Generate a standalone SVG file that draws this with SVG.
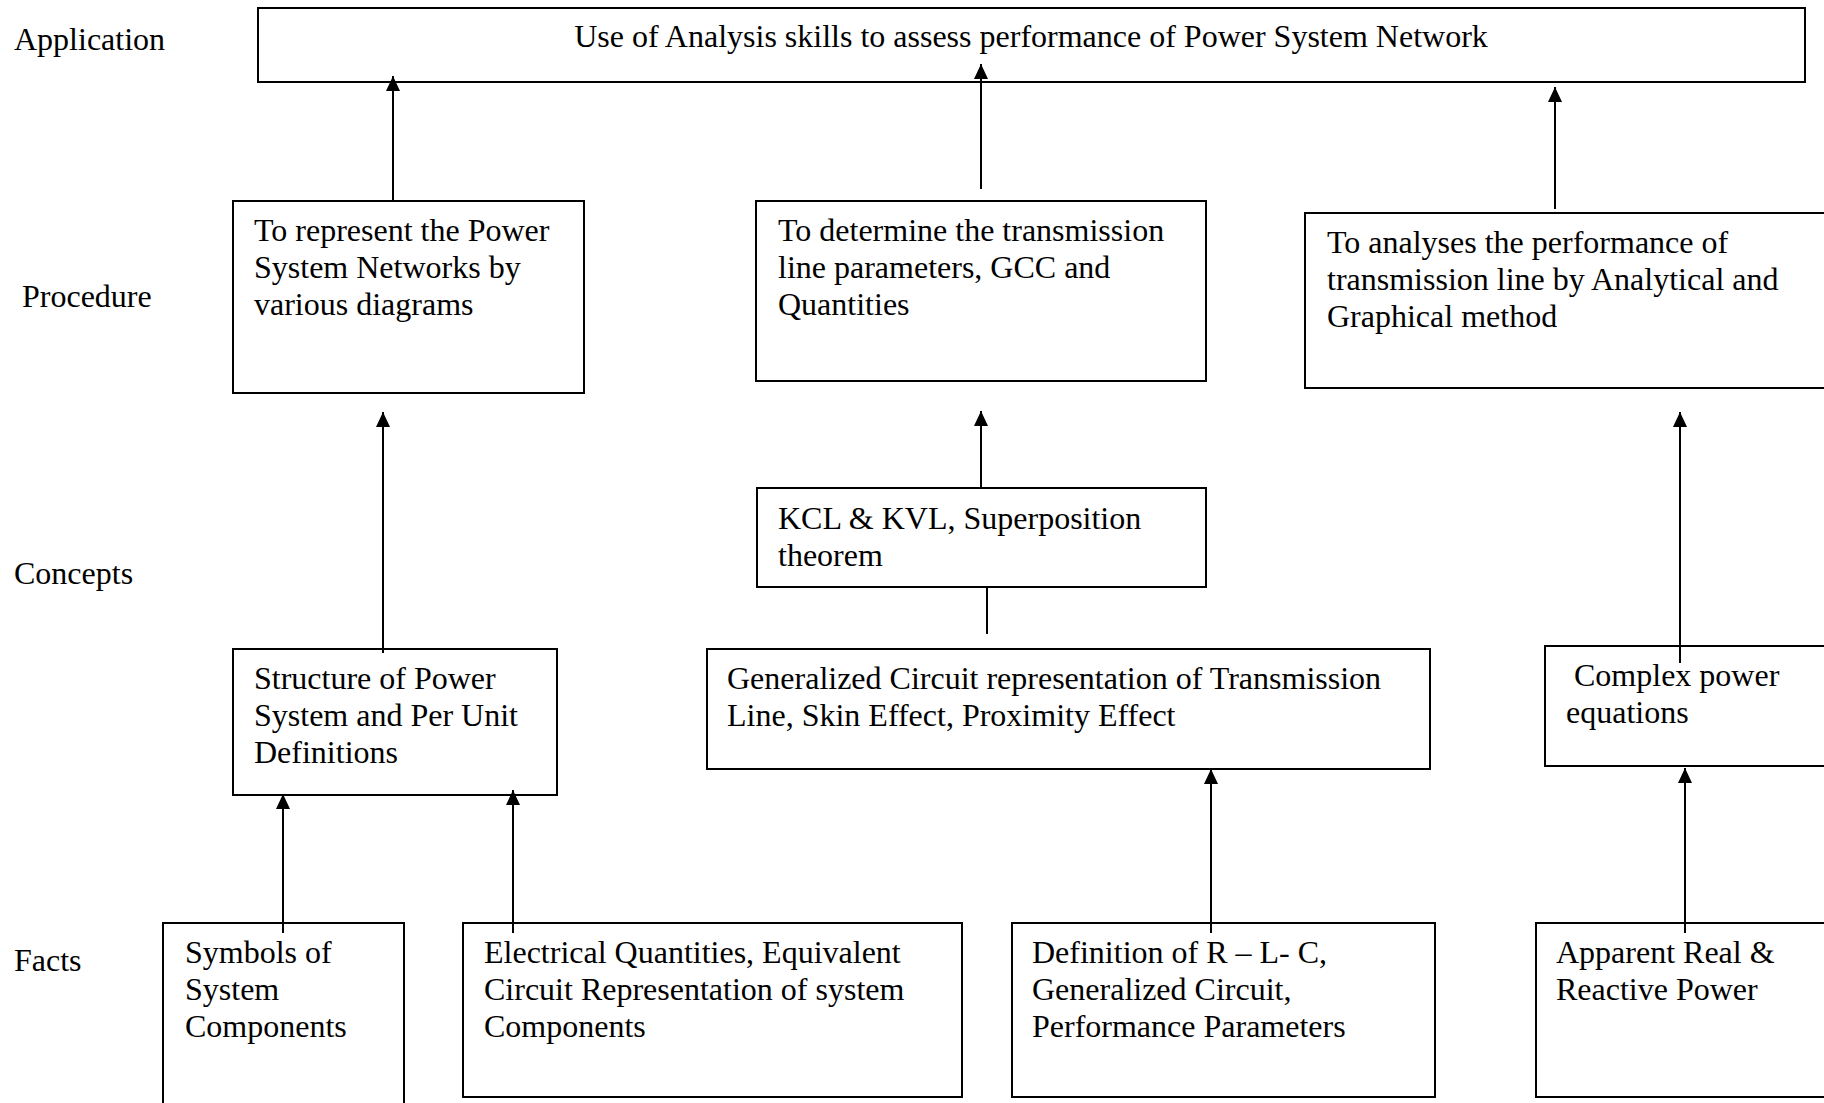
<svg xmlns="http://www.w3.org/2000/svg" width="1824" height="1103" viewBox="0 0 1824 1103">
<style>
  .box { fill: #ffffff; stroke: #000000; stroke-width: 2; }
  .t { font-family: "Liberation Serif", "Times New Roman", serif; font-size: 32px; fill: #000000; }
  .c { stroke: #000000; stroke-width: 2; fill: none; }
  .a { marker-end: url(#arr); }
</style>
<defs>
  <marker id="arr" viewBox="0 0 15 14" refX="15" refY="7" markerWidth="15" markerHeight="14" markerUnits="userSpaceOnUse" orient="auto">
    <path d="M0,0 L15,7 L0,14 z" fill="#000000"/>
  </marker>
</defs>
<rect x="0" y="0" width="1824" height="1103" fill="#ffffff"/>

<g id="level-labels">
  <text class="t" x="14" y="50">Application</text>
  <text class="t" x="22" y="307">Procedure</text>
  <text class="t" x="14" y="584">Concepts</text>
  <text class="t" x="14" y="971">Facts</text>
</g>

<g id="app">
  <rect class="box" x="258" y="8" width="1547" height="74"/>
  <text class="t" x="1031" y="47" text-anchor="middle">Use of Analysis skills to assess performance of Power System Network</text>
</g>

<g id="proc1">
  <rect class="box" x="233" y="201" width="351" height="192"/>
  <text class="t" x="254" y="241">To represent the Power</text>
  <text class="t" x="254" y="278">System Networks by</text>
  <text class="t" x="254" y="315">various diagrams</text>
</g>

<g id="proc2">
  <rect class="box" x="756" y="201" width="450" height="180"/>
  <text class="t" x="778" y="241">To determine the transmission</text>
  <text class="t" x="778" y="278">line parameters, GCC and</text>
  <text class="t" x="778" y="315">Quantities</text>
</g>

<g id="proc3">
  <rect class="box" x="1305" y="213" width="530" height="175"/>
  <text class="t" x="1327" y="253">To analyses the performance of</text>
  <text class="t" x="1327" y="290">transmission line by Analytical and</text>
  <text class="t" x="1327" y="327">Graphical method</text>
</g>

<g id="kcl">
  <rect class="box" x="757" y="488" width="449" height="99"/>
  <text class="t" x="778" y="529">KCL &amp; KVL, Superposition</text>
  <text class="t" x="778" y="566">theorem</text>
</g>

<g id="structure">
  <rect class="box" x="233" y="649" width="324" height="146"/>
  <text class="t" x="254" y="689">Structure of Power</text>
  <text class="t" x="254" y="726">System and Per Unit</text>
  <text class="t" x="254" y="763">Definitions</text>
</g>

<g id="gcc">
  <rect class="box" x="707" y="649" width="723" height="120"/>
  <text class="t" x="727" y="689">Generalized Circuit representation of Transmission</text>
  <text class="t" x="727" y="726">Line, Skin Effect, Proximity Effect</text>
</g>

<g id="complex">
  <rect class="box" x="1545" y="646" width="290" height="120"/>
  <text class="t" x="1566" y="686" xml:space="preserve"> Complex power</text>
  <text class="t" x="1566" y="723">equations</text>
</g>

<g id="symbols">
  <rect class="box" x="163" y="923" width="241" height="200"/>
  <text class="t" x="185" y="963">Symbols of</text>
  <text class="t" x="185" y="1000">System</text>
  <text class="t" x="185" y="1037">Components</text>
</g>

<g id="electrical">
  <rect class="box" x="463" y="923" width="499" height="174"/>
  <text class="t" x="484" y="963">Electrical Quantities, Equivalent</text>
  <text class="t" x="484" y="1000">Circuit Representation of system</text>
  <text class="t" x="484" y="1037">Components</text>
</g>

<g id="definition">
  <rect class="box" x="1012" y="923" width="423" height="174"/>
  <text class="t" x="1032" y="963">Definition of R – L- C,</text>
  <text class="t" x="1032" y="1000">Generalized Circuit,</text>
  <text class="t" x="1032" y="1037">Performance Parameters</text>
</g>

<g id="apparent">
  <rect class="box" x="1536" y="923" width="300" height="174"/>
  <text class="t" x="1556" y="963">Apparent Real &amp;</text>
  <text class="t" x="1556" y="1000">Reactive Power</text>
</g>

<g id="connectors">
  <line class="c a" x1="393" y1="201" x2="393" y2="76"/>
  <line class="c a" x1="981" y1="189" x2="981" y2="64"/>
  <line class="c a" x1="1555" y1="209" x2="1555" y2="87"/>
  <line class="c a" x1="383" y1="653" x2="383" y2="412"/>
  <line class="c a" x1="981" y1="488" x2="981" y2="411"/>
  <line class="c" x1="987" y1="588" x2="987" y2="634"/>
  <line class="c a" x1="1680" y1="663" x2="1680" y2="412"/>
  <line class="c a" x1="283" y1="933" x2="283" y2="794"/>
  <line class="c a" x1="513" y1="933" x2="513" y2="790"/>
  <line class="c a" x1="1211" y1="933" x2="1211" y2="769"/>
  <line class="c a" x1="1685" y1="933" x2="1685" y2="768"/>
</g>
</svg>
